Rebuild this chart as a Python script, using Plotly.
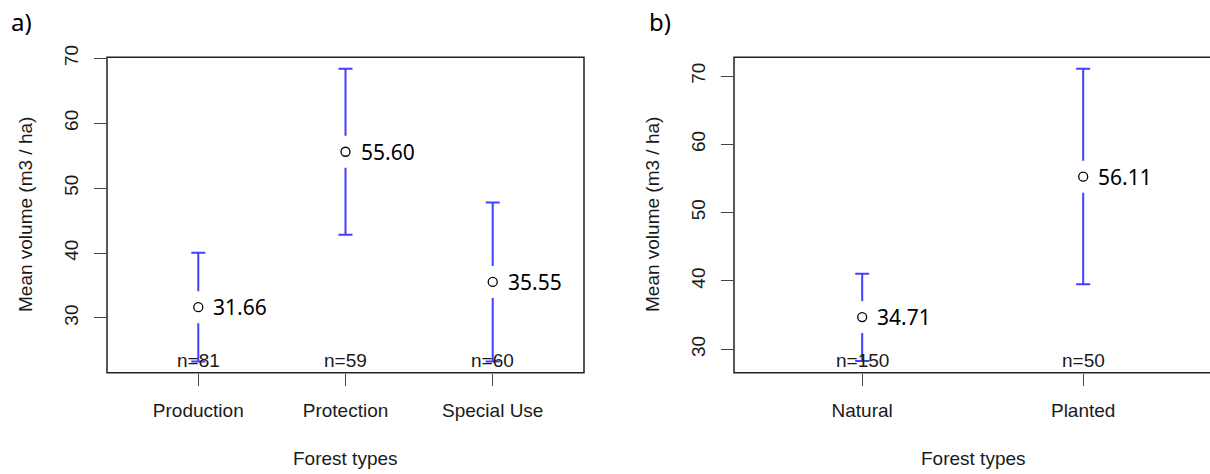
import plotly.graph_objects as go

# ---------------- data ----------------
cats_a = ["Production", "Protection", "Special Use"]
means_a = [31.66, 55.60, 35.55]
lower_a = [23.3, 42.8, 23.3]
upper_a = [40.05, 68.4, 47.8]
labels_a = ["31.66", "55.60", "35.55"]
n_a = [81, 59, 60]

cats_b = ["Natural", "Planted"]
means_b = [34.71, 55.27]
lower_b = [28.3, 39.5]
upper_b = [41.05, 71.05]
labels_b = ["34.71", "56.11"]
n_b = [150, 50]

yticks = [30, 40, 50, 60, 70]

# ---------------- layout constants ----------------
W, H = 1210, 474
TOP_PX, BOT_PX = 57.3, 372.7
A_L, A_R = 107, 584
B_L, B_R = 734, 1210
yrange_a = [21.57, 70.15]
yrange_b = [26.57, 72.74]
xrange_a = [0.38, 3.62]
xrange_b = [0.42, 0.42 + (B_R - B_L) / 221.0]
BLUE = "#4040ff"
GAP_PX = 16
ARIAL = "Liberation Sans, Arial, sans-serif"
CALIBRI = "Noto Sans, Open Sans, sans-serif"
TXT = "#1a1a1a"

fig = go.Figure()


def add_panel(cats, means, lower, upper, labels, ns, xa, ya, yrange):
    xs = list(range(1, len(cats) + 1))
    px_per_unit = (BOT_PX - TOP_PX) / (yrange[1] - yrange[0])
    gap = GAP_PX / px_per_unit
    segx, segy = [], []
    for x, m, lo, hi in zip(xs, means, lower, upper):
        segx += [x, x, None, x, x, None]
        segy += [lo, m - gap, None, m + gap, hi, None]
    fig.add_trace(go.Scatter(x=segx, y=segy, mode="lines",
                             line=dict(color=BLUE, width=2),
                             xaxis=xa, yaxis=ya, showlegend=False, hoverinfo="skip"))
    fig.add_trace(go.Scatter(x=xs + xs, y=lower + upper, mode="markers",
                             marker=dict(symbol="line-ew", size=10,
                                         line=dict(color=BLUE, width=2)),
                             xaxis=xa, yaxis=ya, showlegend=False, hoverinfo="skip"))
    fig.add_trace(go.Scatter(x=xs, y=means, mode="markers",
                             marker=dict(symbol="circle-open", size=9,
                                         color="black", line=dict(width=1.3)),
                             xaxis=xa, yaxis=ya, showlegend=False))
    for x, m, lab, n in zip(xs, means, labels, ns):
        fig.add_annotation(x=x, y=m, xref=xa, yref=ya, text=lab,
                           showarrow=False, xanchor="left", yanchor="middle",
                           xshift=13, font=dict(family=CALIBRI, size=21, color="black"))
        fig.add_annotation(x=x, y=yrange[0], xref=xa, yref=ya, text=f"n={n}",
                           showarrow=False, xanchor="center", yanchor="bottom",
                           yshift=0, font=dict(family=ARIAL, size=19, color=TXT))


add_panel(cats_a, means_a, lower_a, upper_a, labels_a, n_a, "x", "y", yrange_a)
add_panel(cats_b, means_b, lower_b, upper_b, labels_b, n_b, "x2", "y2", yrange_b)

ydom = [(H - BOT_PX) / H, (H - TOP_PX) / H]
axis_common = dict(showgrid=False, zeroline=False, ticks="outside", ticklen=12,
                   tickwidth=1.4, tickcolor="#444", showline=False, automargin=False,
                   tickfont=dict(family=ARIAL, size=19, color=TXT))

fig.update_layout(
    width=W, height=H, margin=dict(l=0, r=0, t=0, b=0, autoexpand=False),
    paper_bgcolor="white", plot_bgcolor="white", showlegend=False,
    xaxis=dict(domain=[A_L / W, A_R / W], range=xrange_a, tickvals=[1, 2, 3],
               ticktext=cats_a, anchor="y", ticklabelstandoff=8, **axis_common),
    yaxis=dict(domain=ydom, range=yrange_a, tickvals=yticks, tickangle=-90,
               anchor="x", ticklabelstandoff=8, **axis_common),
    xaxis2=dict(domain=[B_L / W, B_R / W], range=xrange_b, tickvals=[1, 2],
                ticktext=cats_b, anchor="y2", ticklabelstandoff=8, **axis_common),
    yaxis2=dict(domain=ydom, range=yrange_b, tickvals=yticks, tickangle=-90,
                anchor="x2", ticklabelstandoff=8, **axis_common),
)

# frames
fig.add_shape(type="rect", xref="x domain", yref="y domain", x0=0, x1=1, y0=0, y1=1,
              line=dict(color="#222", width=1.5))
fig.add_shape(type="rect", xref="x2 domain", yref="y2 domain", x0=0, x1=1.01, y0=0, y1=1,
              line=dict(color="#222", width=1.5))

# axis titles and panel letters
for cx in [(A_L + A_R) / 2, (B_L + 1212) / 2]:
    fig.add_annotation(x=cx / W, y=1 - 458 / H, xref="paper", yref="paper",
                       xanchor="center", yanchor="middle",
                       text="Forest types", showarrow=False,
                       font=dict(family=ARIAL, size=19, color=TXT))
for cx in [25, 652]:
    fig.add_annotation(x=cx / W, y=1 - 215 / H, xref="paper", yref="paper",
                       xanchor="center", yanchor="middle",
                       text="Mean volume (m3 / ha)", textangle=-90, showarrow=False,
                       font=dict(family=ARIAL, size=19, color=TXT))
for txt, cx in [("a)", 21), ("b)", 660)]:
    fig.add_annotation(x=cx / W, y=1 - 22 / H, xref="paper", yref="paper",
                       xanchor="center", yanchor="middle",
                       text=txt, showarrow=False,
                       font=dict(family=CALIBRI, size=24, color="black"))

fig.write_html("out.html", config={"displayModeBar": False},
               post_script="document.body.style.margin='0';document.body.style.overflow='hidden';")
